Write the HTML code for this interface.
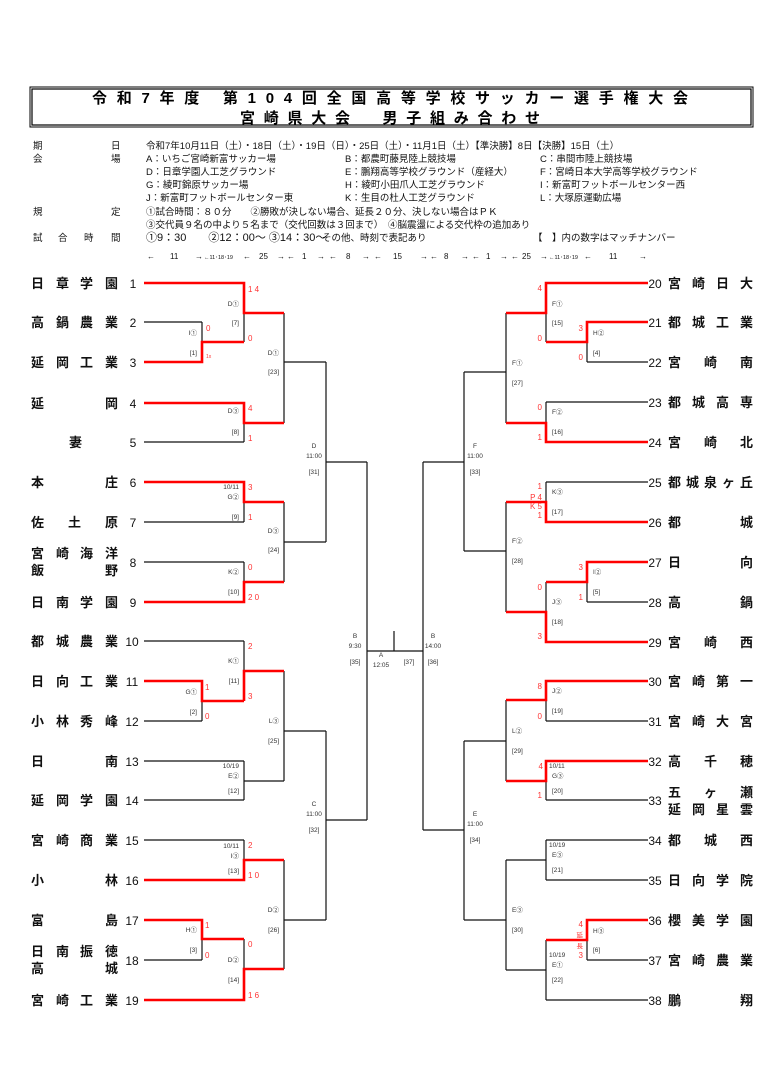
<!DOCTYPE html>
<html><head><meta charset="utf-8">
<style>
html,body{margin:0;padding:0;background:#fff;}
svg{display:block;font-family:"Liberation Sans","Noto Sans CJK JP",sans-serif;}
.t{font-size:13px;font-weight:bold;fill:#111;}
.n{font-size:12px;fill:#111;text-anchor:middle;}
.l{font-size:6.5px;fill:#333;}
.s{font-size:8px;fill:#f33;}
.i{font-size:9.5px;fill:#111;}
</style></head><body>
<svg width="778" height="1092" viewBox="0 0 778 1092" xmlns="http://www.w3.org/2000/svg">
<rect x="0" y="0" width="778" height="1092" fill="#fff"/>
<!-- header box -->
<rect x="30" y="87" width="723" height="40" fill="none" stroke="#000" stroke-width="1"/>
<rect x="32" y="89" width="719" height="36" fill="none" stroke="#000" stroke-width="1.2"/>
<text x="390" y="103" text-anchor="middle" font-size="15" font-weight="bold" textLength="596" lengthAdjust="spacing">令和7年度 第104回全国高等学校サッカー選手権大会</text>
<text x="390" y="123" text-anchor="middle" font-size="15" font-weight="bold" textLength="300" lengthAdjust="spacing">宮崎県大会　男子組み合わせ</text>
<!-- info -->
<g class="i">
<text x="33" y="149">期</text><text x="111" y="149">日</text>
<text x="146" y="149">令和7年10月11日（土）・18日（土）・19日（日）・25日（土）・11月1日（土）【準決勝】8日【決勝】15日（土）</text>
<text x="33" y="162">会</text><text x="111" y="162">場</text>
<text x="146" y="162">A：いちご宮崎新富サッカー場</text><text x="345" y="162">B：都農町藤見陸上競技場</text><text x="540" y="162">C：串間市陸上競技場</text>
<text x="146" y="175">D：日章学園人工芝グラウンド</text><text x="345" y="175">E：鵬翔高等学校グラウンド（産経大）</text><text x="540" y="175">F：宮崎日本大学高等学校グラウンド</text>
<text x="146" y="188">G：綾町錦原サッカー場</text><text x="345" y="188">H：綾町小田爪人工芝グラウンド</text><text x="540" y="188">I：新富町フットボールセンター西</text>
<text x="146" y="201">J：新富町フットボールセンター東</text><text x="345" y="201">K：生目の杜人工芝グラウンド</text><text x="540" y="201">L：大塚原運動広場</text>
<text x="33" y="215">規</text><text x="111" y="215">定</text>
<text x="146" y="215">①試合時間：８０分　　②勝敗が決しない場合、延長２０分、決しない場合はＰＫ</text>
<text x="146" y="228">③交代員９名の中より５名まで（交代回数は３回まで）　④脳震盪による交代枠の追加あり</text>
<text x="33" y="241">試</text><text x="58" y="241">合</text><text x="84" y="241">時</text><text x="111" y="241">間</text>
<text x="146" y="241" font-size="11">①9：30　　②12：00～ ③14：30～</text><text x="322" y="241">その他、時刻で表記あり</text><text x="533" y="241">【　】内の数字はマッチナンバー</text>
</g>
<g font-size="8" fill="#111">
<text x="147" y="259">←</text><text x="170" y="259">11</text><text x="195" y="259">→</text><text x="204" y="259" font-size="5.5">←11･18･19</text>
<text x="243" y="259">←</text><text x="259" y="259">25</text><text x="277" y="259">→</text><text x="287" y="259">←</text><text x="302" y="259">1</text><text x="317" y="259">→</text>
<text x="329" y="259">←</text><text x="346" y="259">8</text><text x="362" y="259">→</text><text x="374" y="259">←</text><text x="393" y="259">15</text><text x="420" y="259">→</text>
<text x="430" y="259">←</text><text x="444" y="259">8</text><text x="461" y="259">→</text><text x="472" y="259">←</text><text x="486" y="259">1</text><text x="500" y="259">→</text>
<text x="511" y="259">←</text><text x="522" y="259">25</text><text x="540" y="259">→</text><text x="549" y="259" font-size="5.5">←11･18･19</text>
<text x="584" y="259">←</text><text x="609" y="259">11</text><text x="639" y="259">→</text>
</g>
<!-- black lines -->
<path fill="none" stroke="#111" stroke-width="1.2" d="
M144 283H244 M144 322H202 M144 362H202 M144 403H244 M144 442H244 M144 482H244 M144 522H244 M144 562H244 M144 602H244 M144 641H244 M144 681H202 M144 721H202 M144 761H244 M144 800H244 M144 840H244 M144 880H244 M144 920H202 M144 960H202 M144 1000H244
M202 322V362 M202 342H244 M244 283V342 M244 313H284 M244 403V442 M244 423H284 M284 313V423 M284 362H326
M244 482V522 M244 502H284 M244 562V602 M244 582H284 M284 502V582 M284 542H326 M326 362V542 M326 462H367
M202 681V721 M202 701H244 M244 641V701 M244 671H284 M244 761V800 M244 781H284 M284 671V781 M284 731H326
M244 840V880 M244 860H284 M202 920V960 M202 939H244 M244 939V1000 M244 969H284 M284 860V969 M284 920H326
M326 731V920 M326 820H367 M367 462V820 M367 651H423 M394 631V651
M648 283H546 M648 322H587 M648 362H587 M648 402H546 M648 442H546 M648 482H546 M648 522H546 M648 562H587 M648 602H587 M648 642H546 M648 681H546 M648 721H546 M648 761H546 M648 800H546 M648 840H546 M648 880H546 M648 920H587 M648 960H587 M648 1000H546
M587 322V362 M587 342H546 M546 283V342 M546 313H506 M546 402V442 M546 423H506 M506 313V423 M506 372H464
M546 482V522 M546 502H506 M587 562V602 M587 582H546 M546 582V642 M546 612H506 M506 502V612 M506 551H464 M464 372V551 M464 462H423
M546 681V721 M546 700H506 M546 761V800 M546 781H506 M506 700V781 M506 741H464
M546 840V880 M546 860H506 M587 920V960 M587 940H546 M546 940V1000 M546 970H506 M506 860V970 M506 920H464
M464 741V920 M464 830H423 M423 462V830"/>
<!-- red lines -->
<path fill="none" stroke="#f00" stroke-width="2.6" d="
M144 362H202V342H244 M144 283H244V313H284 M144 403H244V423H284 M144 482H244V502H284 M144 602H244V582H284
M144 681H202V701H244 M244 701V671H284 M144 880H244V860H284 M144 920H202V939H244 M144 1000H244V969H284
M648 322H587V342H546 M648 283H546V313H506 M648 442H546V423H506 M648 522H546V502H506
M648 562H587V582H546 M648 642H546V612H506 M648 681H546V700H506 M648 761H546V781H506 M648 920H587V940H546"/>
<!-- left team names -->
<g class="t">
<text x="31 56 80 105" y="288">日章学園</text>
<text x="31 56 80 105" y="327">高鍋農業</text>
<text x="31 56 80 105" y="367">延岡工業</text>
<text x="31 105" y="408">延岡</text>
<text x="69" y="447">妻</text>
<text x="31 105" y="487">本庄</text>
<text x="31 68 105" y="527">佐土原</text>
<text x="31 56 80 105" y="558">宮崎海洋</text>
<text x="31 105" y="575">飯野</text>
<text x="31 56 80 105" y="607">日南学園</text>
<text x="31 56 80 105" y="646">都城農業</text>
<text x="31 56 80 105" y="686">日向工業</text>
<text x="31 56 80 105" y="726">小林秀峰</text>
<text x="31 105" y="766">日南</text>
<text x="31 56 80 105" y="805">延岡学園</text>
<text x="31 56 80 105" y="845">宮崎商業</text>
<text x="31 105" y="885">小林</text>
<text x="31 105" y="925">富島</text>
<text x="31 56 80 105" y="956">日南振徳</text>
<text x="31 105" y="973">高城</text>
<text x="31 56 80 105" y="1005">宮崎工業</text>
</g>
<g class="n">
<text x="133" y="288">1</text><text x="133" y="327">2</text><text x="133" y="367">3</text><text x="133" y="408">4</text><text x="133" y="447">5</text><text x="133" y="487">6</text><text x="133" y="527">7</text><text x="133" y="567">8</text><text x="133" y="607">9</text><text x="132" y="646">10</text><text x="132" y="686">11</text><text x="132" y="726">12</text><text x="132" y="766">13</text><text x="132" y="805">14</text><text x="132" y="845">15</text><text x="132" y="885">16</text><text x="132" y="925">17</text><text x="132" y="965">18</text><text x="132" y="1005">19</text>
<text x="655" y="288">20</text><text x="655" y="327">21</text><text x="655" y="367">22</text><text x="655" y="407">23</text><text x="655" y="447">24</text><text x="655" y="487">25</text><text x="655" y="527">26</text><text x="655" y="567">27</text><text x="655" y="607">28</text><text x="655" y="647">29</text><text x="655" y="686">30</text><text x="655" y="726">31</text><text x="655" y="766">32</text><text x="655" y="805">33</text><text x="655" y="845">34</text><text x="655" y="885">35</text><text x="655" y="925">36</text><text x="655" y="965">37</text><text x="655" y="1005">38</text>
</g>
<!-- right team names -->
<g class="t">
<text x="668 692 716 740" y="288">宮崎日大</text>
<text x="668 692 716 740" y="327">都城工業</text>
<text x="668 704 740" y="367">宮崎南</text>
<text x="668 692 716 740" y="407">都城高専</text>
<text x="668 704 740" y="447">宮崎北</text>
<text x="668 686 704 722 740" y="487">都城泉ヶ丘</text>
<text x="668 740" y="527">都城</text>
<text x="668 740" y="567">日向</text>
<text x="668 740" y="607">高鍋</text>
<text x="668 704 740" y="647">宮崎西</text>
<text x="668 692 716 740" y="686">宮崎第一</text>
<text x="668 692 716 740" y="726">宮崎大宮</text>
<text x="668 704 740" y="766">高千穂</text>
<text x="668 704 740" y="797">五ヶ瀬</text>
<text x="668 692 716 740" y="814">延岡星雲</text>
<text x="668 704 740" y="845">都城西</text>
<text x="668 692 716 740" y="885">日向学院</text>
<text x="668 692 716 740" y="925">櫻美学園</text>
<text x="668 692 716 740" y="965">宮崎農業</text>
<text x="668 740" y="1005">鵬翔</text>
</g>
<!-- left match labels -->
<g class="l" text-anchor="end">
<text x="197" y="335">I①</text><text x="197" y="355">[1]</text>
<text x="239" y="306">D①</text><text x="239" y="325">[7]</text>
<text x="239" y="413">D③</text><text x="239" y="434">[8]</text>
<text x="279" y="355">D①</text><text x="279" y="374">[23]</text>
<text x="239" y="489">10/11</text><text x="239" y="499">G②</text><text x="239" y="519">[9]</text>
<text x="239" y="574">K②</text><text x="239" y="594">[10]</text>
<text x="279" y="533">D③</text><text x="279" y="552">[24]</text>
<text x="197" y="694">G①</text><text x="197" y="714">[2]</text>
<text x="239" y="663">K①</text><text x="239" y="683">[11]</text>
<text x="239" y="768">10/19</text><text x="239" y="778">E②</text><text x="239" y="793">[12]</text>
<text x="279" y="723">L③</text><text x="279" y="743">[25]</text>
<text x="239" y="848">10/11</text><text x="239" y="858">I③</text><text x="239" y="873">[13]</text>
<text x="197" y="932">H①</text><text x="197" y="952">[3]</text>
<text x="239" y="962">D②</text><text x="239" y="982">[14]</text>
<text x="279" y="912">D②</text><text x="279" y="932">[26]</text>
</g>
<g class="l" text-anchor="middle">
<text x="314" y="448">D</text><text x="314" y="458">11:00</text><text x="314" y="474">[31]</text>
<text x="314" y="806">C</text><text x="314" y="816">11:00</text><text x="314" y="832">[32]</text>
<text x="355" y="638">B</text><text x="355" y="648">9:30</text><text x="355" y="664">[35]</text>
<text x="381" y="657">A</text><text x="381" y="667">12:05</text><text x="409" y="664">[37]</text>
<text x="433" y="638">B</text><text x="433" y="648">14:00</text><text x="433" y="664">[36]</text>
<text x="475" y="448">F</text><text x="475" y="458">11:00</text><text x="475" y="474">[33]</text>
<text x="475" y="816">E</text><text x="475" y="826">11:00</text><text x="475" y="842">[34]</text>
</g>
<!-- right match labels -->
<g class="l">
<text x="593" y="335">H②</text><text x="593" y="355">[4]</text>
<text x="552" y="306">F①</text><text x="552" y="325">[15]</text>
<text x="552" y="414">F②</text><text x="552" y="434">[16]</text>
<text x="512" y="365">F①</text><text x="512" y="385">[27]</text>
<text x="552" y="494">K③</text><text x="552" y="514">[17]</text>
<text x="593" y="574">I②</text><text x="593" y="594">[5]</text>
<text x="552" y="604">J③</text><text x="552" y="624">[18]</text>
<text x="512" y="543">F②</text><text x="512" y="563">[28]</text>
<text x="552" y="693">J②</text><text x="552" y="713">[19]</text>
<text x="549" y="768">10/11</text><text x="552" y="778">G③</text><text x="552" y="793">[20]</text>
<text x="512" y="733">L②</text><text x="512" y="753">[29]</text>
<text x="549" y="847">10/19</text><text x="552" y="857">E③</text><text x="552" y="872">[21]</text>
<text x="593" y="933">H③</text><text x="593" y="952">[6]</text>
<text x="549" y="957">10/19</text><text x="552" y="967">E①</text><text x="552" y="982">[22]</text>
<text x="512" y="912">E③</text><text x="512" y="932">[30]</text>
</g>
<!-- scores left -->
<g class="s">
<text x="206" y="331">0</text><text x="206" y="358" font-size="5">1x</text>
<text x="248" y="292">1 4</text><text x="248" y="341">0</text>
<text x="248" y="411">4</text><text x="248" y="441">1</text>
<text x="248" y="490">3</text><text x="248" y="520">1</text>
<text x="248" y="570">0</text><text x="248" y="600">2 0</text>
<text x="205" y="690">1</text><text x="205" y="719">0</text>
<text x="248" y="649">2</text><text x="248" y="699">3</text>
<text x="248" y="848">2</text><text x="248" y="878">1 0</text>
<text x="205" y="928">1</text><text x="205" y="958">0</text>
<text x="248" y="947">0</text><text x="248" y="998">1 6</text>
</g>
<!-- scores right -->
<g class="s" text-anchor="end">
<text x="583" y="331">3</text><text x="583" y="360">0</text>
<text x="542" y="291">4</text><text x="542" y="341">0</text>
<text x="542" y="410">0</text><text x="542" y="440">1</text>
<text x="542" y="489">1</text><text x="542" y="500">P 4</text><text x="542" y="509">K 5</text><text x="542" y="518">1</text>
<text x="583" y="570">3</text><text x="583" y="600">1</text>
<text x="542" y="590">0</text><text x="542" y="639">3</text>
<text x="542" y="689">8</text><text x="542" y="719">0</text>
<text x="543" y="769">4</text><text x="542" y="798">1</text>
<text x="583" y="927">4</text><text x="583" y="937" font-size="6.5">延</text><text x="583" y="948" font-size="6.5">長</text><text x="583" y="958">3</text>
</g>
</svg>
</body></html>
